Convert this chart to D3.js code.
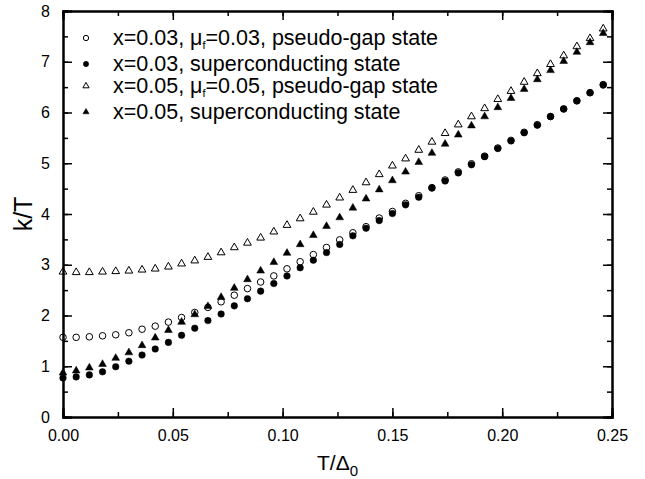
<!DOCTYPE html>
<html>
<head>
<meta charset="utf-8">
<script src="https://cdn.jsdelivr.net/npm/d3@7/dist/d3.min.js"></script>
<style>
  html, body { margin: 0; padding: 0; background: #fff; }
  svg { display: block; font-family: Arial, "Liberation Sans", sans-serif; }
</style>
</head>
<body>
<svg id="chart" width="645" height="479"></svg>
<script>
// T / Delta_0 sample points shared by all four series
var tValues = [0.000, 0.006, 0.012, 0.018, 0.024, 0.030, 0.036, 0.042, 0.048, 0.054,
               0.060, 0.066, 0.072, 0.078, 0.084, 0.090, 0.096, 0.102, 0.108, 0.114,
               0.120, 0.126, 0.132, 0.138, 0.144, 0.150, 0.156, 0.162, 0.168, 0.174,
               0.180, 0.186, 0.192, 0.198, 0.204, 0.210, 0.216, 0.222, 0.228, 0.234,
               0.240, 0.246];

// x=0.03, mu_f=0.03, pseudo-gap state (open circles)
var pg003 = [1.57, 1.57, 1.58, 1.60, 1.62, 1.66, 1.73, 1.79, 1.87, 1.96, 2.06, 2.16,
             2.27, 2.40, 2.53, 2.66, 2.78, 2.92, 3.06, 3.20, 3.34, 3.49,
             3.63, 3.75, 3.92, 4.05, 4.21, 4.36, 4.52, 4.67, 4.83, 4.99,
             5.14, 5.30, 5.45, 5.61, 5.76, 5.92, 6.07, 6.23, 6.39, 6.55];
// x=0.03, superconducting state (filled circles)
var sc003 = [0.77, 0.79, 0.83, 0.89, 0.99, 1.10, 1.22, 1.34, 1.47, 1.61, 1.75, 1.90,
             2.03, 2.19, 2.33, 2.48, 2.63, 2.78, 2.94, 3.09, 3.24, 3.40,
             3.57, 3.72, 3.87, 4.01, 4.18, 4.33, 4.51, 4.65, 4.81, 4.97,
             5.13, 5.29, 5.44, 5.60, 5.75, 5.92, 6.07, 6.23, 6.39, 6.54];
// x=0.05, mu_f=0.05, pseudo-gap state (open triangles)
var pg005 = [2.86, 2.85, 2.85, 2.86, 2.87, 2.88, 2.90, 2.92, 2.96, 3.02, 3.08, 3.15,
             3.24, 3.34, 3.43, 3.53, 3.65, 3.78, 3.91, 4.04, 4.18, 4.32,
             4.47, 4.62, 4.78, 4.95, 5.09, 5.26, 5.42, 5.59, 5.76, 5.92,
             6.08, 6.26, 6.42, 6.60, 6.77, 6.95, 7.12, 7.30, 7.46, 7.65];
// x=0.05, superconducting state (filled triangles)
var sc005 = [0.87, 0.91, 0.97, 1.04, 1.16, 1.27, 1.41, 1.56, 1.71, 1.87, 2.02, 2.18,
             2.36, 2.54, 2.71, 2.88, 3.05, 3.23, 3.40, 3.58, 3.76, 3.93,
             4.12, 4.30, 4.48, 4.66, 4.83, 5.02, 5.20, 5.38, 5.56, 5.74,
             5.92, 6.10, 6.28, 6.46, 6.65, 6.83, 7.01, 7.19, 7.38, 7.56];

var xTicks = [0.00, 0.05, 0.10, 0.15, 0.20, 0.25];
var yTicks = [0, 1, 2, 3, 4, 5, 6, 7, 8];

var series = [
  { name: 'pg003', values: pg003, shape: 'circle', filled: false,
    label: ['x=0.03, ', 'μ', 'f', '=0.03, pseudo-gap state'] },
  { name: 'sc003', values: sc003, shape: 'circle', filled: true,
    label: ['x=0.03, superconducting state'] },
  { name: 'pg005', values: pg005, shape: 'triangle', filled: false,
    label: ['x=0.05, ', 'μ', 'f', '=0.05, pseudo-gap state'] },
  { name: 'sc005', values: sc005, shape: 'triangle', filled: true,
    label: ['x=0.05, superconducting state'] }
];

var margin = { left: 63, right: 33, top: 11, bottom: 62 };
var width = 645, height = 479;

var svg = d3.select('#chart');

var x = d3.scaleLinear().domain([0, 0.25]).range([margin.left, width - margin.right]);
var y = d3.scaleLinear().domain([0, 8]).range([height - margin.bottom, margin.top]);

function symbolPath(shape, scale) {
  scale = scale || 1;
  if (shape === 'circle') return d3.symbol().type(d3.symbolCircle).size(34 * scale)();
  return d3.symbol().type(d3.symbolTriangle).size(26 * scale)();
}

// data markers
series.forEach(function (s) {
  svg.append('g').attr('class', 'series-' + s.name)
    .selectAll('path')
    .data(s.values.map(function (v, i) { return [tValues[i], v]; }))
    .join('path')
    .attr('transform', function (d) { return 'translate(' + x(d[0]) + ',' + y(d[1]) + ')'; })
    .attr('d', symbolPath(s.shape))
    .attr('fill', s.filled ? '#000' : '#fff')
    .attr('stroke', '#000')
    .attr('stroke-width', s.filled ? 0.5 : 1);
});

// axes: ticks inward on all four sides
var xMinor = d3.range(0, 0.2501, 0.025);
var yMinor = d3.range(0, 8.01, 0.5);

function addAxis(axis, transform, labels) {
  var g = svg.append('g').attr('transform', transform).call(axis);
  g.select('.domain').attr('stroke-width', 2);
  g.selectAll('.tick line').attr('stroke-width', 1.5);
  if (!labels) g.selectAll('.tick text').remove();
  return g;
}

var plotH = height - margin.bottom - margin.top;
var plotW = width - margin.right - margin.left;

addAxis(d3.axisBottom(x).tickValues(xMinor).tickSize(-5).tickFormat(''), 'translate(0,' + (height - margin.bottom) + ')', false);
addAxis(d3.axisTop(x).tickValues(xMinor).tickSize(-5).tickFormat(''), 'translate(0,' + margin.top + ')', false);
addAxis(d3.axisLeft(y).tickValues(yMinor).tickSize(-5).tickFormat(''), 'translate(' + margin.left + ',0)', false);
addAxis(d3.axisRight(y).tickValues(yMinor).tickSize(-5).tickFormat(''), 'translate(' + (width - margin.right) + ',0)', false);

addAxis(d3.axisBottom(x).tickValues(xTicks).tickSize(-9).tickPadding(13).tickFormat(d3.format('.2f')),
  'translate(0,' + (height - margin.bottom) + ')', true);
addAxis(d3.axisTop(x).tickValues(xTicks).tickSize(-9).tickFormat(''), 'translate(0,' + margin.top + ')', false);
addAxis(d3.axisLeft(y).tickValues(yTicks).tickSize(-9).tickPadding(13).tickFormat(d3.format('d')),
  'translate(' + margin.left + ',0)', true);
addAxis(d3.axisRight(y).tickValues(yTicks).tickSize(-9).tickFormat(''), 'translate(' + (width - margin.right) + ',0)', false);

svg.selectAll('.tick text').attr('font-size', 16).attr('fill', '#000')
  .attr('font-family', 'Arial, "Liberation Sans", sans-serif');

// axis titles
svg.append('text')
  .attr('transform', 'translate(32,' + (margin.top + plotH / 2) + ') rotate(-90)')
  .attr('text-anchor', 'middle')
  .attr('font-size', 25)
  .text('k/T');

var xt = svg.append('text')
  .attr('x', margin.left + plotW / 2)
  .attr('y', 470)
  .attr('text-anchor', 'middle')
  .attr('font-size', 21);
xt.append('tspan').text('T/Δ');
xt.append('tspan').attr('font-size', 15).attr('dy', 6).text('0');

// legend
var legendRows = [38, 64, 86, 112];
series.forEach(function (s, i) {
  var ly = legendRows[i];
  svg.append('path')
    .attr('transform', 'translate(86,' + ly + ')')
    .attr('d', symbolPath(s.shape, 0.65))
    .attr('fill', s.filled ? '#000' : '#fff')
    .attr('stroke', '#000')
    .attr('stroke-width', s.filled ? 0.5 : 1);
  var t = svg.append('text')
    .attr('x', 113).attr('y', ly + 7)
    .attr('font-size', 21.5);
  if (s.label.length === 1) {
    t.text(s.label[0]);
  } else {
    t.append('tspan').text(s.label[0]);
    t.append('tspan').text(s.label[1]);
    t.append('tspan').attr('font-size', 11).attr('dy', 4).text(s.label[2]);
    t.append('tspan').attr('dy', -4).text(s.label[3]);
  }
});
</script>
</body>
</html>
